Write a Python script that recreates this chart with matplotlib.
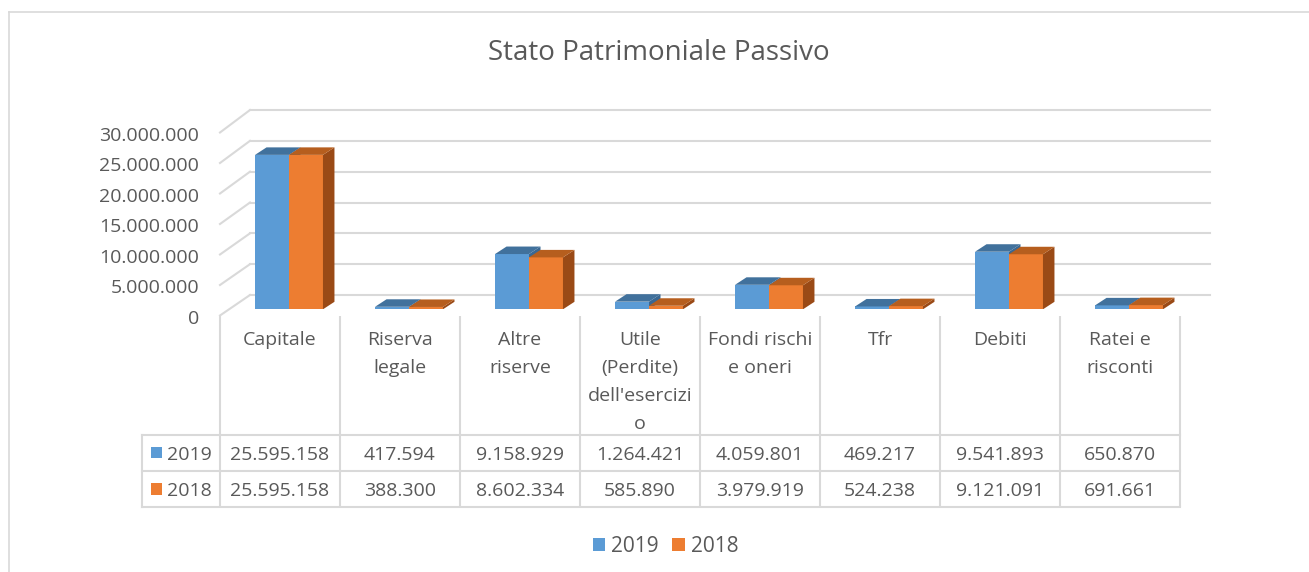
import numpy as np
import matplotlib
matplotlib.use("Agg")
import matplotlib.pyplot as plt
from matplotlib.patches import Polygon, Rectangle
from matplotlib.lines import Line2D
from matplotlib.transforms import IdentityTransform
from matplotlib.ticker import FuncFormatter

# ---------------- data ----------------
title = "Stato Patrimoniale Passivo"
categories = ["Capitale", "Riserva legale", "Altre riserve",
              "Utile (Perdite) dell'esercizio", "Fondi rischi e oneri",
              "Tfr", "Debiti", "Ratei e risconti"]
header_lines = [["Capitale"], ["Riserva", "legale"], ["Altre", "riserve"],
                ["Utile", "(Perdite)", "dell'esercizi", "o"],
                ["Fondi rischi", "e oneri"], ["Tfr"], ["Debiti"],
                ["Ratei e", "risconti"]]
series_names = ["2019", "2018"]
values_2019 = [25595158, 417594, 9158929, 1264421, 4059801, 469217, 9541893, 650870]
values_2018 = [25595158, 388300, 8602334, 585890, 3979919, 524238, 9121091, 691661]
y_ticks = [0, 5000000, 10000000, 15000000, 20000000, 25000000, 30000000]

# ---------------- style ----------------
plt.rcParams['font.family'] = ['Open Sans', 'DejaVu Sans']
TXT = '#595959'
GRID = '#D9D9D9'
C_FRONT = ['#5B9BD5', '#ED7D31']
C_TOP = ['#41719C', '#B65E1E']
C_SIDE = ['#3A6893', '#9A4A16']
FS = 14

W, H = 1309, 572
fig = plt.figure(figsize=(W / 100, H / 100), dpi=100)


def px_axes(x0, y0, x1, y1, **kw):
    return fig.add_axes([x0 / W, 1 - y1 / H, (x1 - x0) / W, (y1 - y0) / H], **kw)


def fmt(v, pos=None):
    return f"{v:,.0f}".replace(",", ".")


def clean(ax):
    for s in ax.spines.values():
        s.set_visible(False)
    ax.set_facecolor('none')
    ax.set_xticks([])


n = len(categories)
ymax = y_ticks[-1]

# back wall (gridlines)
back = px_axes(250, 110, 1210, 295)
back.set_xlim(0, n)
back.set_ylim(0, ymax)
clean(back)
back.set_yticks([])
for v in y_ticks:
    back.axhline(v, color=GRID, lw=1.5, clip_on=False, zorder=0)

# front plane (axis labels)
front = px_axes(220, 134, 1180, 317)
front.set_xlim(0, n)
front.set_ylim(0, ymax)
clean(front)
front.set_yticks(y_ticks)
front.yaxis.set_major_formatter(FuncFormatter(fmt))
front.tick_params(axis='y', length=0, pad=15, labelsize=FS, labelcolor=TXT)

# side-wall diagonals
for v in y_ticks:
    p0 = front.transData.transform((0, v)) + np.array([0, 1.5])
    p1 = back.transData.transform((0, v))
    fig.add_artist(Line2D([p0[0], p1[0]], [p0[1], p1[1]], color=GRID, lw=1.5,
                          transform=IdentityTransform()))

# bars plane
bx = px_axes(229, 128.3, 1189, 309.3)
bx.set_xlim(0, n)
bx.set_ylim(0, ymax)
bx.axis('off')

BAR_W = 0.283
DX, DY = 11.5, 7.5
xc = np.arange(n) + 0.5
series = [values_2019, values_2018]
offsets = [-BAR_W / 2, BAR_W / 2]

for s, vals in enumerate(series):
    bars = bx.bar(xc + offsets[s], vals, width=BAR_W, color=C_FRONT[s], linewidth=0)
    for i, (rect, v) in enumerate(zip(bars, vals)):
        z = 10 * i + 2 * s + 1
        rect.set_zorder(z)
        x0 = rect.get_x()
        x1 = x0 + rect.get_width()
        pts = bx.transData.transform([(x0, 0), (x1, 0), (x1, v), (x0, v)])
        off = np.array([DX, DY])
        inv = bx.transData.inverted().transform
        side = inv(np.array([pts[1], pts[2], pts[2] + off, pts[1] + off]))
        top = inv(np.array([pts[3], pts[2], pts[2] + off, pts[3] + off]))
        bx.add_patch(Polygon(side, closed=True, fc=C_SIDE[s], ec='none', zorder=z + 0.5))
        bx.add_patch(Polygon(top, closed=True, fc=C_TOP[s], ec='none', zorder=z + 0.6))

# overlay for title, table and legend
ov = px_axes(0, 0, W, H)
ov.set_xlim(0, W)
ov.set_ylim(H, 0)
ov.axis('off')

# outer chart border (left & top visible)
ov.plot([9, 9], [12, H], color=GRID, lw=1.2)
ov.plot([9, W], [12, 12], color=GRID, lw=1.2)

ov.text(659, 60, title, ha='center', va='baseline', fontsize=20, color=TXT)

# data table
col0, colw = 220, 120
edges = [col0 + i * colw for i in range(n + 1)]
row_tops = [435, 471, 507]
key_left = 142
for xe in edges:
    ov.plot([xe, xe], [316, row_tops[-1]], color=GRID, lw=1.5, solid_capstyle='butt')
ov.plot([key_left, key_left], [row_tops[0], row_tops[-1]], color=GRID, lw=1.5)
for yr in row_tops:
    ov.plot([key_left, edges[-1]], [yr, yr], color=GRID, lw=1.5)

for i, lines in enumerate(header_lines):
    cx = col0 + (i + 0.5) * colw
    for k, line in enumerate(lines):
        ov.text(cx, 345 + 28 * k, line, ha='center', va='baseline', fontsize=FS, color=TXT)

baselines = [459.5, 496]
for s, vals in enumerate(series):
    ov.add_patch(Rectangle((150.5, baselines[s] - 13), 11.5, 11.5, color=C_FRONT[s], lw=0))
    ov.text(167, baselines[s], series_names[s], ha='left', va='baseline', fontsize=FS, color=TXT)
    for i, v in enumerate(vals):
        cx = col0 + (i + 0.5) * colw
        ov.text(cx, baselines[s], fmt(v), ha='center', va='baseline', fontsize=FS, color=TXT)

# legend
leg_x = [592.5, 672]
for s in range(2):
    ov.add_patch(Rectangle((leg_x[s], 538), 12.5, 13, color=C_FRONT[s], lw=0))
    ov.text(leg_x[s] + 19, 552.5, series_names[s], ha='left', va='baseline',
            fontsize=15, color=TXT)

fig.savefig("out.png", dpi=100)
